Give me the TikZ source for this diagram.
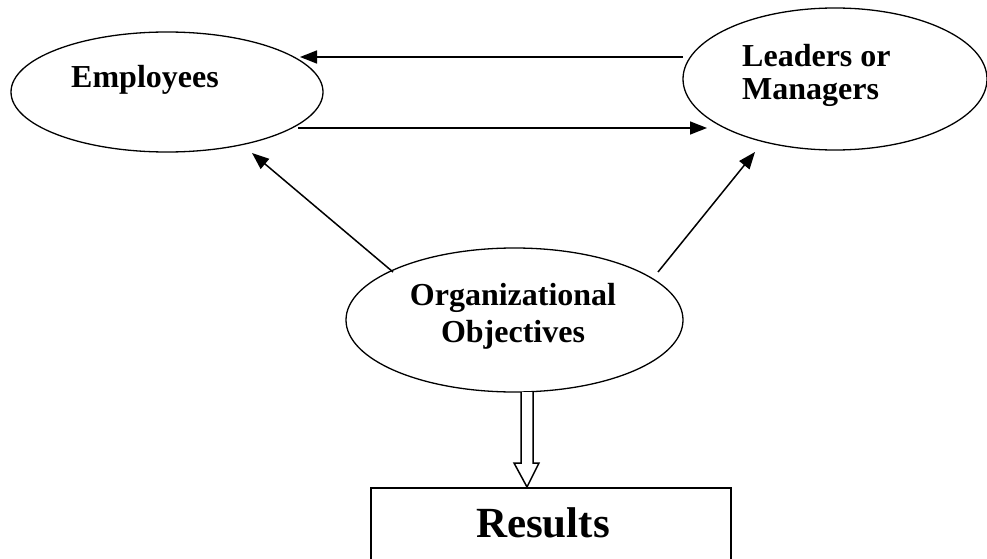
\documentclass[tikz,border=0pt]{standalone}
\usepackage{fontspec}
\setmainfont{Liberation Serif}
\usetikzlibrary{shapes.geometric,arrows.meta,calc}
\begin{document}
\begin{tikzpicture}[x=1pt,y=-1pt,
  oval/.style={draw,ellipse,line width=1.3pt,inner sep=0pt},
  lbl/.style={font=\fontsize{32}{37}\selectfont\bfseries,inner sep=0pt,anchor=base},
  conn/.style={line width=1.5pt,-{Triangle[length=17pt,width=13pt]}},
  hollow/.style={draw,line width=1.5pt,fill=white,line join=miter}]
\useasboundingbox (0,0) rectangle (987,559);
% ellipses
\node[oval,minimum width=312pt,minimum height=120pt] (emp) at (167,92) {};
\node[oval,minimum width=304pt,minimum height=142pt] (lead) at (835,79) {};
\node[oval,minimum width=337pt,minimum height=144pt] (org) at (514.5,320) {};
% texts
\node[lbl] (empt) at (145,88) {Employees};
\node[lbl,anchor=base west] (leadt1) at (742,67) {Leaders or};
\node[lbl,anchor=base west] (leadt2) at (742,100) {Managers};
\node[lbl] (orgt1) at (513,305) {Organizational};
\node[lbl] (orgt2) at (513,342) {Objectives};
% results box
\draw[line width=2.3pt] (371,560) |- (731,488) -- (731,560);
\node[font=\fontsize{43}{50}\selectfont\bfseries,inner sep=0pt,anchor=base] (res) at (543,537) {Results};
% connector ends
\coordinate (a1s) at (683,57);
\coordinate (a1e) at (300,57);
\coordinate (a2s) at (298,128);
\coordinate (a2e) at (707,128);
\coordinate (a3s) at (393,272);
\coordinate (a3e) at (252,153);
\coordinate (a4s) at (658,272);
\coordinate (a4e) at (755,152);
\draw[conn] (a1s) -- (a1e);
\draw[conn] (a2s) -- (a2e);
\draw[conn] (a3s) -- (a3e);
\draw[conn] (a4s) -- (a4e);
% hollow arrow
\coordinate (dtop) at (527,392);
\coordinate (dtip) at (527,487);
\draw[hollow] ($(dtop)+(-6,0)$) -- ($(dtop)+(-6,71)$) -- ($(dtop)+(-13,71)$) -- (dtip)
  -- ($(dtop)+(12,71)$) -- ($(dtop)+(6,71)$) -- ($(dtop)+(6,0)$);
\end{tikzpicture}
\end{document}
